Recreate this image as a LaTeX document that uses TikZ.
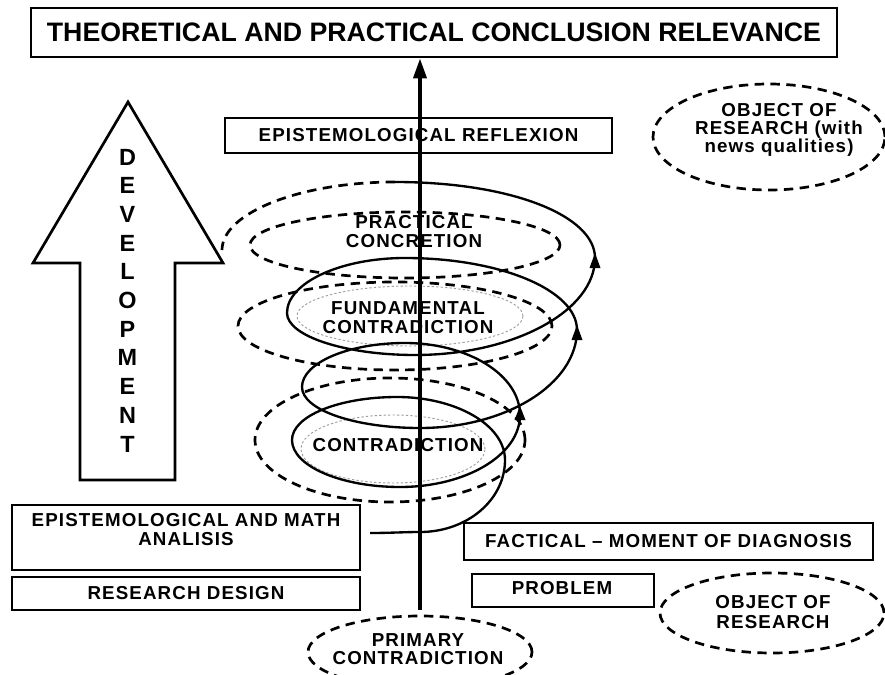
\documentclass[tikz,border=0pt]{standalone}
\usepackage{fontspec}
\setmainfont{Liberation Sans}
\newfontfamily\lblfam[LetterSpace=6]{Liberation Sans}
\usetikzlibrary{shapes.geometric,arrows.meta,calc}
\newcommand\lblfont[1]{\lblfam\fontsize{16}{#1}\selectfont\bfseries}
\begin{document}
\begin{tikzpicture}[x=0.03cm,y=0.03cm,
  box/.style 2 args={draw, rectangle, line width=2.3pt, inner sep=0pt,
     minimum width=#1*0.03cm, minimum height=#2*0.03cm, align=center, font=\lblfont{16pt}},
  ell/.style 2 args={ellipse, inner sep=0pt, minimum width=#1*0.06cm, minimum height=#2*0.06cm},
  dashline/.style={line width=2.3pt, dash pattern=on 8pt off 5.5pt},
  dotline/.style={draw=gray!75, line width=0.8pt, dash pattern=on 2pt off 1.8pt},
  spiral/.style={line width=2pt},
  txt/.style={align=center, inner sep=0pt, font=\lblfont{16.2pt}},
  mainarr/.style={line width=3.2pt, -{Triangle[length=17pt,width=11pt]}},
  devarrow/.style={draw, line width=2.3pt, fill=white, line join=miter}
]
\fill[white] (0,0) rectangle (885,-675);
\useasboundingbox (0,0) rectangle (885,-675);

% top title
\node[box={806}{49}, font=\fontsize{22.8}{24}\selectfont\bfseries] (title) at (434,-32.5)
  {THEORETICAL AND PRACTICAL CONCLUSION RELEVANCE};

% level ellipses (dashed)
\node[ell={155}{33}, draw, dashline] (practicalring) at (405,-245) {};
\node[ell={157}{44}, draw, dashline] (fundamentalring) at (395,-326) {};
\node[ell={135}{62}, draw, dashline] (contraring) at (390,-440) {};
% inner dotted ellipses
\node[ell={113}{30}, dotline] (fundamentalcore) at (410,-316) {};
\node[ell={92}{34}, dotline] (contracore) at (393,-449) {};

% spiral
\draw[spiral] (370,-533) .. controls (390,-533) and (405,-532) .. (420,-532)
 .. controls (467,-532) and (505,-500) .. (505,-460)
 .. controls (505,-425) and (456,-397) .. (397,-397)
 .. controls (339,-397) and (292,-416) .. (292,-440)
 .. controls (292,-466) and (341,-487) .. (400,-487)
 .. controls (466,-487) and (520,-455) .. (520,-415)
 .. controls (520,-375) and (468,-343) .. (405,-343)
 .. controls (348,-343) and (302,-363) .. (302,-387)
 .. controls (302,-410) and (355,-428) .. (420,-428)
 .. controls (506,-428) and (577,-384) .. (577,-330)
 .. controls (577,-290) and (500,-258) .. (405,-258)
 .. controls (340,-258) and (287,-283) .. (287,-313)
 .. controls (287,-336) and (345,-355) .. (415,-355)
 .. controls (514,-355) and (595,-311) .. (595,-258)
 .. controls (595,-216) and (512,-182) .. (395,-182);
\draw[dashline] (395,-182) .. controls (300,-182) and (222,-213) .. (222,-250);
% small arrowheads on the spiral
\fill (595,-253) -- (589.5,-268) -- (600.5,-268) -- cycle;
\fill (577,-325) -- (571.5,-340) -- (582.5,-340) -- cycle;
\fill (520,-406) -- (514.5,-420) -- (525.5,-420) -- cycle;

% level labels
\node[txt] (practical) at (414,-232) {PRACTICAL\\CONCRETION};
\node[txt] (fundamental) at (408,-318) {FUNDAMENTAL\\CONTRADICTION};
\node[txt] (contradiction) at (398,-445) {CONTRADICTION};

% reflexion box
\node[box={387}{35}, fill=white] (reflex) at (418.5,-135.5) {EPISTEMOLOGICAL REFLEXION};

% object of research (top right)
\node[ell={116}{53}, draw, dashline] (objnewsring) at (769,-137) {};
\node[txt, font=\lblfont{15.3pt}] (objnews) at (779,-130) {OBJECT OF\\RESEARCH (with\\news qualities)};

% development arrow
\draw[devarrow] (128,-102) -- (223,-263) -- (175,-263) -- (175,-480) -- (80,-480)
  -- (80,-263) -- (33,-263) -- cycle;
\node[align=center, inner sep=0pt, font=\fontsize{20}{24.5}\selectfont\bfseries] (dev) at (127.5,-300.5)
  {D\\E\\V\\E\\L\\O\\P\\M\\E\\N\\T};

% bottom left boxes
\node[box={348}{65}] (epimathbox) at (186,-537.5) {};
\node[txt] (epimath) at (186,-529.5) {EPISTEMOLOGICAL AND MATH\\ANALISIS};
\node[box={348}{33}] (design) at (186,-593.5) {RESEARCH DESIGN};

% bottom right boxes
\node[box={409}{37}] (factical) at (668.5,-541.5) {FACTICAL \textendash{} MOMENT OF DIAGNOSIS};
\node[box={182}{33}] (problembox) at (563,-590.5) {};
\node[txt] (problem) at (562,-588) {PROBLEM};

\node[ell={112}{40}, draw, dashline] (objring) at (772,-613) {};
\node[txt, font=\lblfont{17pt}] (obj) at (773,-612) {OBJECT OF\\RESEARCH};

\node[ell={112}{36}, draw, dashline] (primaryring) at (420,-652) {};
\node[txt, font=\lblfont{15.5pt}] (primary) at (418,-649) {PRIMARY\\CONTRADICTION};

% main vertical arrow
\draw[mainarr] ($(primaryring.north)+(0,5)$) -- (primaryring.north |- title.south);
\end{tikzpicture}
\end{document}
